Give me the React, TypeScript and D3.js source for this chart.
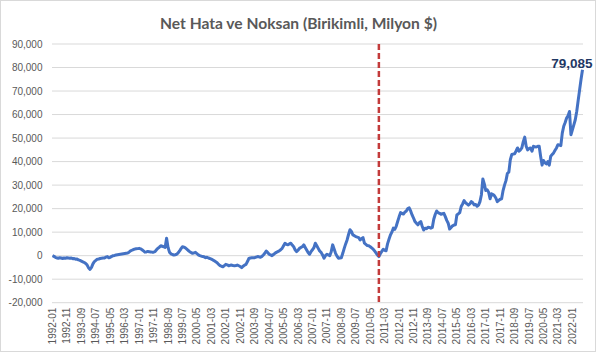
import React, { useEffect, useRef } from 'react';
import * as d3 from 'd3';

const chartTitle = 'Net Hata ve Noksan (Birikimli, Milyon $)';
const firstMonth = new Date(1992, 0, 1);
const markerMonth = '2010-11'; // red dashed reference line
const yTicks = [-20000, -10000, 0, 10000, 20000, 30000, 40000, 50000, 60000, 70000, 80000, 90000];
const labelEvery = 10; // an x label every 10 months

// Cumulative net errors & omissions, million $, one row per year (1992-01 .. 2022-08)
const netErrors = [
  0, -300, -700, -1000, -1100, -900, -1000, -1200, -1000, -1100, -900, -1000, // 1992
  -1100, -1000, -1300, -1200, -1500, -1400, -1800, -2000, -2300, -2600, -2900, -3300, // 1993
  -4000, -5200, -5800, -5000, -3500, -2500, -2000, -1500, -1400, -1200, -1100, -1000, // 1994
  -1000, -600, -400, -900, -700, -300, 0, 100, 300, 400, 500, 600, // 1995
  700, 800, 900, 1000, 1100, 1500, 2000, 2300, 2600, 2800, 2900, 3000, // 1996
  3100, 2900, 2500, 2000, 1500, 1600, 1800, 1700, 1600, 1500, 1500, 1700, // 1997
  2500, 3200, 3600, 4200, 4000, 3800, 3500, 7400, 3500, 1500, 800, 500, // 1998
  300, 400, 600, 1200, 2000, 3000, 3800, 3600, 3300, 2800, 2200, 1700, // 1999
  1300, 1000, 1200, 1400, 900, 300, 0, -200, -400, -500, -850, -700, // 2000
  -1000, -1200, -1500, -1800, -2200, -2600, -3000, -3700, -4200, -4500, -4700, -4200, // 2001
  -3700, -3900, -4300, -4100, -4000, -4200, -4300, -4200, -4000, -4300, -4600, -5100, // 2002
  -4500, -4000, -3700, -2500, -1200, -1000, -900, -900, -850, -600, -400, -500, // 2003
  -700, -300, 300, 1000, 2000, 1300, 600, 300, 0, 500, 1000, 1400, // 2004
  1700, 2000, 2500, 3100, 4200, 5300, 4800, 4600, 5000, 5300, 4500, 3800, // 2005
  2500, 1700, 2300, 3100, 3500, 3800, 4600, 3500, 2400, 1300, 600, 1700, // 2006
  2500, 3400, 5300, 4200, 3100, 2000, 1400, 300, -1100, 0, 600, 300, // 2007
  0, 1700, 4600, 2800, 1000, -200, -1100, -1000, -900, 1000, 3100, 5000, // 2008
  6700, 9000, 11000, 10300, 8800, 8500, 8100, 7900, 7700, 6700, 7200, 7700, // 2009
  5300, 4800, 4300, 4200, 3800, 3300, 2800, 2000, 1200, 300, -400, 800, // 2010
  1800, 2700, 2300, 2100, 5000, 7000, 8800, 10000, 11700, 11200, 12500, 14500, // 2011
  16500, 18300, 18000, 17700, 18500, 19000, 20000, 20300, 19000, 17300, 16000, 14500, // 2012
  13800, 13100, 14000, 14500, 12500, 10900, 11700, 11500, 12100, 12000, 11700, 12000, // 2013
  15500, 17500, 19000, 18300, 18000, 17600, 17800, 18000, 16600, 15000, 13800, 11300, // 2014
  12000, 12700, 13000, 13100, 17300, 17800, 18300, 20900, 22000, 23400, 22500, 22000, // 2015
  21500, 22000, 23000, 22500, 21600, 21800, 21000, 21500, 23000, 25900, 32600, 30500, // 2016
  27700, 28000, 27000, 24200, 26300, 26000, 25500, 24500, 23000, 23500, 24000, 24200, // 2017
  27700, 30000, 31900, 35000, 35500, 40700, 43000, 43200, 43300, 44500, 45800, 44400, // 2018
  45000, 45800, 48500, 50400, 46500, 45000, 45500, 45800, 44400, 46500, 46300, 46200, // 2019
  46500, 46500, 42300, 38500, 40500, 39500, 39000, 40000, 38500, 42300, 43000, 43700, // 2020
  44800, 45800, 47200, 47000, 46800, 52100, 55000, 56600, 58500, 59500, 61300, 51400, // 2021
  53500, 55600, 57800, 61300, 66000, 70500, 75000, 79085, // 2022
];

const App = () => {
  const ref = useRef<SVGSVGElement>(null);

  useEffect(() => {
    const width = 597;
    const height = 353;
    const plot = { left: 52.5, right: 582.5, top: 44, bottom: 302.7 };
    const fmtMonth = d3.timeFormat('%Y-%m');
    const months = d3.timeMonth
      .range(firstMonth, d3.timeMonth.offset(firstMonth, netErrors.length))
      .map(fmtMonth);

    const svg = d3.select(ref.current);
    svg.selectAll('*').remove();
    svg.attr('width', width).attr('height', height);

    // outer chart border
    svg.append('rect')
      .attr('x', 0.5).attr('y', 0.5)
      .attr('width', width - 2).attr('height', height - 2)
      .attr('fill', '#fff')
      .attr('stroke', '#d9d9d9');

    const x = d3.scalePoint<string>().domain(months).range([plot.left, plot.right]);
    const y = d3.scaleLinear().domain([-20000, 90000]).range([plot.bottom, plot.top]);

    // title
    svg.append('text')
      .attr('x', width / 2)
      .attr('y', 29)
      .attr('text-anchor', 'middle')
      .style('font-family', 'Lato, sans-serif')
      .style('font-weight', 700)
      .style('font-size', '15.6px')
      .attr('fill', '#595959')
      .text(chartTitle);

    // horizontal gridlines + y labels
    const yAxis = svg.append('g');
    yAxis.selectAll('line')
      .data(yTicks)
      .enter()
      .append('line')
      .attr('x1', plot.left - 0.5)
      .attr('x2', plot.right + 0.5)
      .attr('y1', d => y(d))
      .attr('y2', d => y(d))
      .attr('stroke', '#d9d9d9')
      .attr('stroke-width', 1);
    yAxis.selectAll('text')
      .data(yTicks)
      .enter()
      .append('text')
      .attr('x', 42.5)
      .attr('y', d => y(d))
      .attr('dy', '0.35em')
      .attr('text-anchor', 'end')
      .style('font-family', '"Liberation Sans", Arial, sans-serif')
      .style('font-size', '10px')
      .attr('fill', '#595959')
      .text(d => d3.format(',')(d).replace('−', '-'));

    // rotated month labels
    svg.append('g')
      .selectAll('text')
      .data(months.filter((m, i) => i % labelEvery === 0))
      .enter()
      .append('text')
      .attr('transform', d => `translate(${x(d)}, ${plot.bottom + 5}) rotate(-90)`)
      .attr('dy', '0.35em')
      .attr('text-anchor', 'end')
      .style('font-family', '"Liberation Sans", Arial, sans-serif')
      .style('font-size', '10px')
      .attr('fill', '#595959')
      .text(d => d);

    // data line
    const line = d3.line<number>()
      .x((d, i) => x(months[i]) as number)
      .y(d => y(d));
    svg.append('path')
      .datum(netErrors)
      .attr('d', line)
      .attr('fill', 'none')
      .attr('stroke', '#4472c4')
      .attr('stroke-width', 3)
      .attr('stroke-linejoin', 'round');

    // dashed reference line
    const mx = x(markerMonth) as number;
    svg.append('line')
      .attr('x1', mx).attr('x2', mx)
      .attr('y1', plot.top).attr('y2', plot.bottom)
      .attr('stroke', '#c33b3b')
      .attr('stroke-width', 2.5)
      .attr('stroke-dasharray', '6,3');

    // last value label
    const last = netErrors[netErrors.length - 1];
    svg.append('text')
      .attr('x', (x(months[months.length - 1]) as number) + 10)
      .attr('y', y(last) - 2)
      .attr('text-anchor', 'end')
      .style('font-family', '"Liberation Sans", Arial, sans-serif')
      .style('font-weight', 700)
      .style('font-size', '13.5px')
      .attr('fill', '#1f3864')
      .text(d3.format(',')(last));
  }, []);

  return (
    <div>
      <svg ref={ref} style={{ position: 'absolute', left: 0, top: 0, display: 'block' }} />
    </div>
  );
};

export default App;
